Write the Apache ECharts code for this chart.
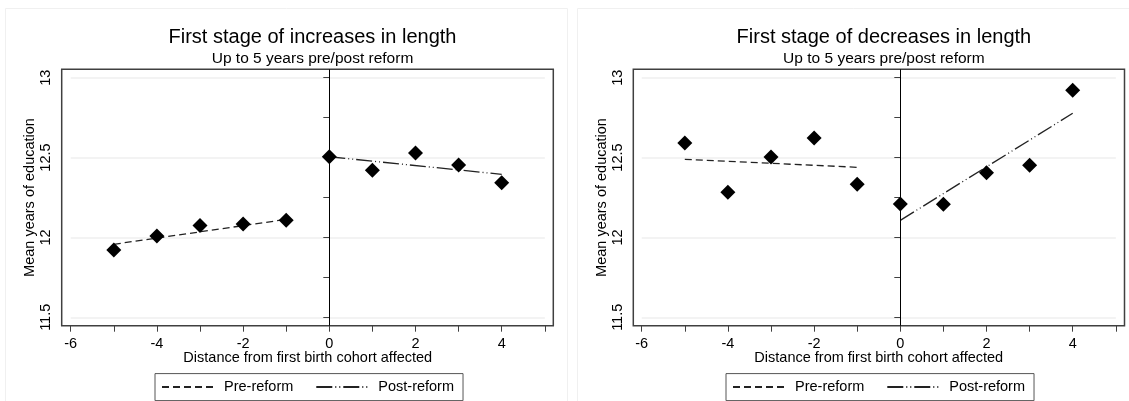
<!DOCTYPE html>
<html>
<head>
<meta charset="utf-8">
<script src="https://cdn.jsdelivr.net/npm/echarts@6/dist/echarts.min.js"></script>
<style>
    html, body { margin: 0; background: #fff; }
    #chart { width: 1129px; height: 401px; }
</style>
</head>
<body>
<div id="chart"></div>
<script>
// distance from first birth cohort affected
const cohortOffsets = [-5, -4, -3, -2, -1, 0, 1, 2, 3, 4]

// mean years of education per cohort
const increaseMeans = [11.921, 12.009, 12.074, 12.084, 12.107, 12.505, 12.42, 12.529, 12.453, 12.343]
const decreaseMeans = [12.591, 12.283, 12.504, 12.622, 12.333, 12.209, 12.207, 12.405, 12.452, 12.921]

// fitted lines, end points only
const preFitX = [-5, -1]
const postFitX = [0, 4]
const increasePreFit = [11.957, 12.113]
const increasePostFit = [12.505, 12.395]
const decreasePreFit = [12.489, 12.439]
const decreasePostFit = [12.107, 12.777]

const xTicks = { min: -6, max: 5, interval: 2 }
const yTicks = { min: 11.5, max: 13, interval: 0.5 }

const FONT = 'Liberation Sans, Arial, sans-serif'
const FRAME_COLOR = '#404040'
const FIT_COLOR = '#222'

const panels = [
    {
        title: 'First stage of increases in length',
        means: increaseMeans,
        preFit: increasePreFit,
        postFit: increasePostFit,
        frame: { left: 61.7, top: 69.3, right: 553.3, bottom: 325.7 },
        data: { left: 70.7, top: 77.7, right: 544.8, bottom: 317.3 },
        legendLeft: 155,
        outer: { x: 5.5, y: 8.5, width: 562, height: 400 },
    },
    {
        title: 'First stage of decreases in length',
        means: decreaseMeans,
        preFit: decreasePreFit,
        postFit: decreasePostFit,
        frame: { left: 633.3, top: 69.3, right: 1124.5, bottom: 325.7 },
        data: { left: 641.7, top: 77.7, right: 1115.8, bottom: 317.3 },
        legendLeft: 726,
        outer: { x: 577.5, y: 8.5, width: 560, height: 400 },
    },
]

const title = []
const grid = []
const xAxis = []
const yAxis = []
const series = []
const legend = []
const graphic = []

panels.forEach((p, i) => {
    const frameIdx = i * 2
    const dataIdx = i * 2 + 1
    const unitX = (p.data.right - p.data.left) / (xTicks.max - xTicks.min)
    const unitY = (p.data.bottom - p.data.top) / (yTicks.max - yTicks.min)
    const centerX = (p.frame.left + p.frame.right) / 2

    title.push({
        text: p.title,
        subtext: 'Up to 5 years pre/post reform',
        left: centerX,
        top: 22,
        textAlign: 'center',
        itemGap: 4,
        textStyle: { fontFamily: FONT, fontSize: 20, fontWeight: 'normal', color: '#000' },
        subtextStyle: { fontFamily: FONT, fontSize: 15.5, color: '#000' },
    })

    // outer plot frame, wider than the data range
    grid.push({
        show: true,
        left: p.frame.left,
        top: p.frame.top,
        width: p.frame.right - p.frame.left,
        height: p.frame.bottom - p.frame.top,
        borderColor: FRAME_COLOR,
        borderWidth: 1.5,
        backgroundColor: 'transparent',
    })
    xAxis.push({
        gridIndex: frameIdx,
        type: 'value',
        show: false,
        min: xTicks.min - (p.data.left - p.frame.left) / unitX,
        max: xTicks.max + (p.frame.right - p.data.right) / unitX,
    })
    yAxis.push({
        gridIndex: frameIdx,
        type: 'value',
        show: false,
        min: yTicks.min - (p.frame.bottom - p.data.bottom) / unitY,
        max: yTicks.max + (p.data.top - p.frame.top) / unitY,
    })

    // data area
    grid.push({
        left: p.data.left,
        top: p.data.top,
        width: p.data.right - p.data.left,
        height: p.data.bottom - p.data.top,
    })
    xAxis.push({
        gridIndex: dataIdx,
        type: 'value',
        min: xTicks.min,
        max: xTicks.max,
        interval: xTicks.interval,
        offset: p.frame.bottom - p.data.bottom,
        name: 'Distance from first birth cohort affected',
        nameLocation: 'middle',
        nameGap: 25,
        nameMoveOverlap: false,
        nameTextStyle: { fontFamily: FONT, fontSize: 14.5, color: '#000' },
        axisLine: { show: false },
        axisTick: { show: true, length: 6, lineStyle: { color: FRAME_COLOR, width: 1 } },
        minorTick: { show: true, splitNumber: 2, length: 6, lineStyle: { color: FRAME_COLOR, width: 1 } },
        axisLabel: {
            fontFamily: FONT,
            fontSize: 14.5,
            color: '#000',
            margin: 11,
            showMinLabel: true,
            showMaxLabel: false,
            formatter: v => (v === xTicks.max ? '' : String(v)),
        },
        splitLine: { show: false },
    })
    yAxis.push({
        gridIndex: dataIdx,
        type: 'value',
        min: yTicks.min,
        max: yTicks.max,
        interval: yTicks.interval,
        offset: p.data.left - p.frame.left,
        name: 'Mean years of education',
        nameLocation: 'middle',
        nameGap: 24,
        nameRotate: 90,
        nameTextStyle: { fontFamily: FONT, fontSize: 14.5, color: '#000' },
        axisLine: { show: false },
        axisTick: { show: true, length: 6, lineStyle: { color: FRAME_COLOR, width: 1 } },
        minorTick: { show: true, splitNumber: 2, length: 6, lineStyle: { color: FRAME_COLOR, width: 1 } },
        axisLabel: {
            fontFamily: FONT,
            fontSize: 14.5,
            color: '#000',
            rotate: 90,
            margin: 8,
            formatter: v => String(v),
        },
        splitLine: { show: true, lineStyle: { color: '#efefef', width: 1.5 } },
    })

    series.push({
        type: 'line',
        xAxisIndex: frameIdx,
        yAxisIndex: frameIdx,
        data: [],
        silent: true,
        markLine: {
            silent: true,
            symbol: 'none',
            label: { show: false },
            lineStyle: { color: '#000', width: 1, type: 'solid' },
            data: [{ xAxis: 0 }],
        },
    })
    series.push({
        name: 'Pre-reform',
        type: 'line',
        xAxisIndex: dataIdx,
        yAxisIndex: dataIdx,
        symbol: 'none',
        data: preFitX.map((x, k) => [x, p.preFit[k]]),
        lineStyle: { color: FIT_COLOR, width: 1.3, type: [7, 4] },
        itemStyle: { color: FIT_COLOR },
        z: 3,
    })
    series.push({
        name: 'Post-reform',
        type: 'line',
        xAxisIndex: dataIdx,
        yAxisIndex: dataIdx,
        symbol: 'none',
        data: postFitX.map((x, k) => [x, p.postFit[k]]),
        lineStyle: { color: FIT_COLOR, width: 1.3, type: [16, 3, 1, 3, 1, 3] },
        itemStyle: { color: FIT_COLOR },
        z: 3,
    })
    series.push({
        type: 'scatter',
        xAxisIndex: dataIdx,
        yAxisIndex: dataIdx,
        symbol: 'diamond',
        symbolSize: 15,
        itemStyle: { color: '#000', opacity: 1 },
        data: cohortOffsets.map((x, k) => [x, p.means[k]]),
        z: 4,
    })

    legend.push({
        data: ['Pre-reform', 'Post-reform'],
        left: p.legendLeft,
        top: 373.6,
        orient: 'horizontal',
        itemWidth: 53,
        itemHeight: 14,
        itemGap: 22,
        padding: [6, 9, 6, 6],
        borderColor: '#555',
        borderWidth: 1,
        borderRadius: 0,
        selectedMode: false,
        itemStyle: { opacity: 0 },
        textStyle: { fontFamily: FONT, fontSize: 14.5, color: '#000', padding: [0, 0, 0, 4] },
    })

    graphic.push({
        type: 'rect',
        shape: p.outer,
        silent: true,
        style: { fill: 'none', stroke: '#f0f0f0', lineWidth: 1 },
        z: -10,
    })
})

const chart = echarts.init(document.getElementById('chart'), null, { renderer: 'canvas' })
chart.setOption({
    backgroundColor: '#fff',
    animation: false,
    title,
    grid,
    xAxis,
    yAxis,
    legend,
    graphic,
    series,
})
</script>
</body>
</html>
